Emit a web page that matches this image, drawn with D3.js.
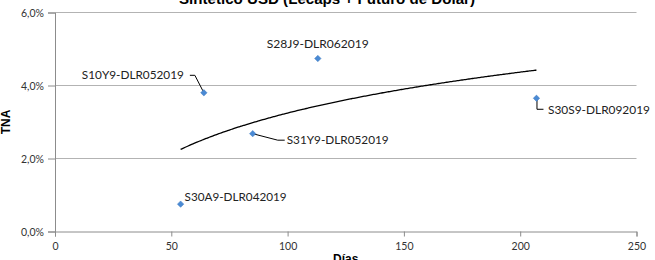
<!DOCTYPE html>
<html>
<head>
<meta charset="utf-8">
<script src="https://cdn.jsdelivr.net/npm/d3@7"></script>
<style>
  body { margin: 0; background: #fff; }
  svg { display: block; font-family: "Century Gothic", "URW Gothic", Lato, sans-serif; }
</style>
</head>
<body>
<div id="chart"></div>
<script>
// data
const names = ["S30A9-DLR042019", "S10Y9-DLR052019", "S31Y9-DLR052019", "S28J9-DLR062019", "S30S9-DLR092019"];
const dias = [54, 64, 85, 113, 207];
const tna = [0.0075, 0.038, 0.0268, 0.0474, 0.0365];
const xTicks = [0, 50, 100, 150, 200, 250];
const yTicks = [0, 0.02, 0.04, 0.06];

// where each data label sits relative to its point (px), plus leader line
const labelPos = [
  { dx: 4, dy: -7, anchor: "start", leader: null },
  { dx: -20, dy: -17, anchor: "end", leader: [[-14, -17.5], [-9, -17.5], [-1, -2]] },
  { dx: 34, dy: 7, anchor: "start", leader: [[0, 0], [25, 6.5], [32, 6.5]] },
  { dx: 0, dy: -14, anchor: "middle", leader: null },
  { dx: 11.5, dy: 12, anchor: "start", leader: [[0.5, 1.5], [0.5, 11], [7, 11]] }
];

const W = 655, H = 260;
const svg = d3.select("#chart").append("svg").attr("width", W).attr("height", H);

const x = d3.scaleLinear().domain([0, 250]).range([55, 636.5]);
const y = d3.scaleLinear().domain([0, 0.06]).range([231.5, 12.5]);

const fmt = d => d3.format(".1f")(d * 100).replace(".", ",") + "%";

// gridlines
svg.append("g")
  .selectAll("line")
  .data(yTicks.filter(d => d > 0))
  .enter().append("line")
  .attr("x1", x(0)).attr("x2", x(250))
  .attr("y1", d => y(d)).attr("y2", d => y(d))
  .attr("stroke", "#b3b3b3").attr("stroke-width", 1);

// y axis
const yAxis = svg.append("g")
  .attr("transform", `translate(${x(0)},0)`)
  .call(d3.axisLeft(y).tickValues(yTicks).tickFormat(fmt).tickSize(7).tickPadding(4));
// x axis
const xAxis = svg.append("g")
  .attr("transform", `translate(0,${y(0)})`)
  .call(d3.axisBottom(x).tickValues(xTicks).tickSize(5).tickPadding(6));

[yAxis, xAxis].forEach(g => {
  g.select(".domain").attr("stroke", "#8c8c8c");
  g.selectAll(".tick line").attr("stroke", "#8c8c8c");
  g.selectAll(".tick text").attr("fill", "#333").style("font-size", "10.5px")
    .style("font-family", "\"Century Gothic\", \"URW Gothic\", Lato, sans-serif");
});
yAxis.selectAll(".tick text").attr("dy", "0.35em");

// logarithmic trendline (least squares fit of tna on ln(dias))
const lx = dias.map(Math.log);
const mx = d3.mean(lx), my = d3.mean(tna);
const b = d3.sum(lx, (v, i) => (v - mx) * (tna[i] - my)) / d3.sum(lx, v => (v - mx) * (v - mx));
const a = my - b * mx;
const trendX = d3.range(d3.min(dias), d3.max(dias) + 0.5, 1);
svg.append("path")
  .datum(trendX)
  .attr("d", d3.line().x(d => x(d)).y(d => y(a + b * Math.log(d))).curve(d3.curveMonotoneX))
  .attr("fill", "none").attr("stroke", "#000").attr("stroke-width", 1.3);

const pts = names.map((n, i) => ({ name: n, dias: dias[i], tna: tna[i], pos: labelPos[i] }));

// leader lines
svg.append("g").selectAll("path")
  .data(pts.filter(d => d.pos.leader))
  .enter().append("path")
  .attr("d", d => d3.line()(d.pos.leader.map(p => [x(d.dias) + p[0], y(d.tna) + p[1]])))
  .attr("fill", "none").attr("stroke", "#000").attr("stroke-width", 1);

// markers
svg.append("g").selectAll("path")
  .data(pts)
  .enter().append("path")
  .attr("transform", d => `translate(${x(d.dias)},${y(d.tna)})`)
  .attr("d", d3.symbol(d3.symbolDiamond2, 26))
  .attr("fill", "#4a8ad4").attr("stroke", "#3c78bf").attr("stroke-width", 0.5);

// data labels
svg.append("g").selectAll("text")
  .data(pts)
  .enter().append("text")
  .attr("x", d => x(d.dias) + d.pos.dx)
  .attr("y", d => y(d.tna) + d.pos.dy)
  .attr("dy", "0.35em")
  .attr("text-anchor", d => d.pos.anchor)
  .attr("textLength", 102)
  .attr("lengthAdjust", "spacingAndGlyphs")
  .attr("fill", "#222")
  .style("font-size", "10.5px")
  .text(d => d.name);

// titles
svg.append("text")
  .attr("x", 327).attr("y", 4)
  .attr("text-anchor", "middle")
  .attr("textLength", 296).attr("lengthAdjust", "spacingAndGlyphs")
  .style("font-family", "Arial, 'Liberation Sans', sans-serif")
  .style("font-weight", "bold").style("font-size", "14px")
  .text("Sintético USD (Lecaps + Futuro de Dólar)");

svg.append("text")
  .attr("x", (x(0) + x(250)) / 2).attr("y", 263)
  .attr("text-anchor", "middle")
  .style("font-family", "Arial, 'Liberation Sans', sans-serif")
  .style("font-weight", "bold").style("font-size", "12px")
  .text("Días");

svg.append("text")
  .attr("transform", `translate(10,${(y(0) + y(0.06)) / 2}) rotate(-90)`)
  .attr("text-anchor", "middle")
  .style("font-family", "Arial, 'Liberation Sans', sans-serif")
  .style("font-weight", "bold").style("font-size", "12px")
  .text("TNA");
</script>
</body>
</html>
